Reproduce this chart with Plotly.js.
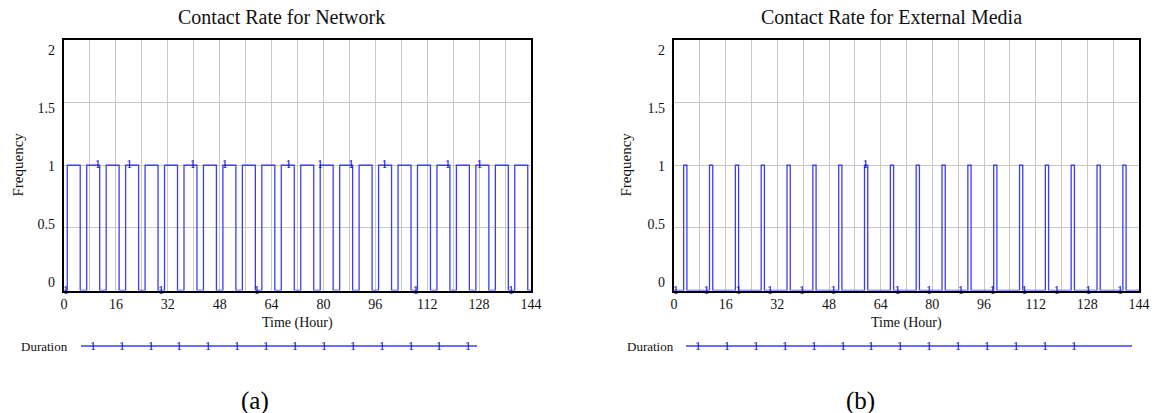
<!DOCTYPE html>
<html>
<head>
<meta charset="utf-8">
<script src="https://cdn.plot.ly/plotly-3.0.1.min.js"></script>
<style>
  html, body { margin: 0; padding: 0; background: #ffffff; }
  #chart { width: 1152px; height: 413px; }
</style>
</head>
<body>
<div id="chart"></div>
<script>
// ---------- DATA ----------
// (a) Contact Rate for Network : step changes (time in hours, value after the change)
const networkTime = [0, 1, 5, 7, 11, 13, 17, 19, 23, 25, 29, 31, 35, 37, 41, 43, 47, 49, 53, 55, 59,
                     61, 65, 67, 71, 73, 77, 79, 83, 85, 89, 91, 95, 97, 101, 103, 107, 109, 113,
                     115, 119, 121, 125, 127, 131, 133, 137, 139, 143, 144];
const networkRate = [0, 1, 0, 1, 0, 1, 0, 1, 0, 1, 0, 1, 0, 1, 0, 1, 0, 1, 0, 1, 0,
                     1, 0, 1, 0, 1, 0, 1, 0, 1, 0, 1, 0, 1, 0, 1, 0, 1, 0,
                     1, 0, 1, 0, 1, 0, 1, 0, 1, 0, 0];
// line-identifier "1" labels drawn on the (a) curve
const networkLabelTime = [0.5, 10.4, 20.1, 29.9, 39.7, 49.6, 59.4, 69.2, 78.9, 88.5, 98.8, 108.5, 118.3, 128.1, 137.8];
const networkLabelRate = [0, 1, 1, 0, 1, 1, 0, 1, 1, 1, 1, 0, 1, 1, 0];

// (b) Contact Rate for External Media
const mediaTime = [0, 3, 4, 11, 12, 19, 20, 27, 28, 35, 36, 43, 44, 51, 52, 59, 60, 67, 68, 75, 76,
                   83, 84, 91, 92, 99, 100, 107, 108, 115, 116, 123, 124, 131, 132, 139, 140, 144];
const mediaRate = [0, 1, 0, 1, 0, 1, 0, 1, 0, 1, 0, 1, 0, 1, 0, 1, 0, 1, 0, 1, 0,
                   1, 0, 1, 0, 1, 0, 1, 0, 1, 0, 1, 0, 1, 0, 1, 0, 0];
const mediaLabelTime = [0.5, 10.1, 20.0, 29.7, 39.6, 49.4, 59.3, 69.2, 79.0, 88.8, 98.6, 108.5, 118.5, 128.3, 138.1];
const mediaLabelRate = [0, 0, 0, 0, 0, 0, 1, 0, 0, 0, 0, 0, 0, 0, 0];

// axis ticks
const xGridVals = [0, 8, 16, 24, 32, 40, 48, 56, 64, 72, 80, 88, 96, 104, 112, 120, 128, 136, 144];
const xTickText = ['0', '', '16', '', '32', '', '48', '', '64', '', '80', '', '96', '', '112', '', '128', '', '144'];
const yTickVals = [0, 0.5, 1, 1.5, 2];
const yTickText = ['0', '0.5', '1', '1.5', '2'];

const titles = ['Contact Rate for Network', 'Contact Rate for External Media'];
const yTitle = 'Frequency';
const xTitle = 'Time (Hour)';
const legendName = 'Duration';
const panelTags = ['(a)', '(b)'];

// ---------- LAYOUT HELPERS ----------
const W = 1152, H = 413;
const px = x => x / W;
const py = y => 1 - y / H;
const SERIF = 'Liberation Serif, Times New Roman, serif';
const LINE_BLUE = '#3c3cff';
const MARK_BLUE = '#0000dd';
const GRID = '#c8c8c8';

const plotTop = 40, plotBottom = 290.5;
const panels = [
  {left: 64, right: 531, xa: 'x', ya: 'y', ylab: 'y3', titleX: 281, yTitleX: 17.5,
   legText: 70, legStart: 81, legEnd: 477, legFirst: 92.7, tagX: 255},
  {left: 674, right: 1139, xa: 'x2', ya: 'y2', ylab: 'y4', titleX: 891, yTitleX: 625.5,
   legText: 676, legStart: 686, legEnd: 1132, legFirst: 698, tagX: 860}
];
// label axis range reproduces the slightly compressed tick-label spacing of the original
const labelRange = [-0.0713, 2.0825];

const seriesT = [networkTime, mediaTime];
const seriesV = [networkRate, mediaRate];
const labT = [networkLabelTime, mediaLabelTime];
const labV = [networkLabelRate, mediaLabelRate];

const traces = [];
const layout = {
  width: W, height: H,
  margin: {l: 0, r: 0, t: 0, b: 0},
  paper_bgcolor: '#ffffff', plot_bgcolor: '#ffffff',
  showlegend: false,
  font: {family: SERIF, color: '#111111', size: 14},
  annotations: [], shapes: []
};

panels.forEach((p, i) => {
  const n = i === 0 ? '' : '2';
  const labN = i === 0 ? '3' : '4';
  traces.push({
    type: 'scatter', mode: 'lines', x: seriesT[i], y: seriesV[i],
    xaxis: p.xa, yaxis: p.ya, line: {shape: 'hv', color: LINE_BLUE, width: 1.3},
    hoverinfo: 'x+y', cliponaxis: false
  });
  traces.push({
    type: 'scatter', mode: 'text', x: labT[i], y: labV[i], text: labT[i].map(() => '1'),
    xaxis: p.xa, yaxis: p.ya, textposition: 'middle center',
    textfont: {family: SERIF, size: 12, color: MARK_BLUE}, hoverinfo: 'skip', cliponaxis: false
  });
  traces.push({type: 'scatter', x: [], y: [], xaxis: p.xa, yaxis: p.ylab, hoverinfo: 'skip'});

  layout['xaxis' + n] = {
    domain: [px(p.left), px(p.right)], range: [0, 144], anchor: p.ya,
    tickmode: 'array', tickvals: xGridVals, ticktext: xTickText,
    showgrid: true, gridcolor: GRID, gridwidth: 1,
    showline: true, mirror: true, linecolor: '#000000', linewidth: 2,
    zeroline: false, ticks: '', ticklabelstandoff: 0,
    tickfont: {family: SERIF, size: 14, color: '#111111'}, fixedrange: true
  };
  layout['yaxis' + n] = {
    domain: [py(plotBottom), py(plotTop)], range: [0, 2], anchor: p.xa,
    tickmode: 'array', tickvals: yTickVals, showticklabels: false,
    showgrid: true, gridcolor: GRID, gridwidth: 1,
    showline: true, mirror: true, linecolor: '#000000', linewidth: 2,
    zeroline: false, ticks: '', fixedrange: true
  };
  layout['yaxis' + labN] = {
    overlaying: p.ya, anchor: p.xa, side: 'left', range: labelRange,
    tickmode: 'array', tickvals: yTickVals, ticktext: yTickText,
    showgrid: false, showline: false, zeroline: false, ticks: '', ticklabelstandoff: 8,
    tickfont: {family: SERIF, size: 14, color: '#111111'}, fixedrange: true
  };

  const A = layout.annotations;
  A.push({text: titles[i], x: px(p.titleX), y: py(17), xref: 'paper', yref: 'paper',
          xanchor: 'center', yanchor: 'middle', showarrow: false,
          font: {family: SERIF, size: 20, color: '#111111'}});
  A.push({text: yTitle, x: px(p.yTitleX), y: py(165), xref: 'paper', yref: 'paper',
          xanchor: 'center', yanchor: 'middle', textangle: -90, showarrow: false,
          font: {family: SERIF, size: 15, color: '#111111'}});
  A.push({text: xTitle, x: px((p.left + p.right) / 2), y: py(323), xref: 'paper', yref: 'paper',
          xanchor: 'center', yanchor: 'middle', showarrow: false,
          font: {family: SERIF, size: 14, color: '#111111'}});
  A.push({text: legendName, x: px(p.legText), y: py(346), xref: 'paper', yref: 'paper',
          xanchor: 'right', yanchor: 'middle', showarrow: false,
          font: {family: SERIF, size: 13, color: '#111111'}});
  A.push({text: panelTags[i], x: px(p.tagX), y: py(401), xref: 'paper', yref: 'paper',
          xanchor: 'center', yanchor: 'middle', showarrow: false,
          font: {family: SERIF, size: 25, color: '#000000'}});
  layout.shapes.push({type: 'line', xref: 'paper', yref: 'paper',
          x0: px(p.legStart), x1: px(p.legEnd), y0: py(346), y1: py(346),
          line: {color: LINE_BLUE, width: 1.5}});
  for (let k = 0; k < 14; k++) {
    A.push({text: '1', x: px(p.legFirst + k * 28.9), y: py(346), xref: 'paper', yref: 'paper',
            xanchor: 'center', yanchor: 'middle', showarrow: false,
            font: {family: SERIF, size: 12, color: MARK_BLUE}});
  }
});

Plotly.newPlot('chart', traces, layout, {displayModeBar: false, staticPlot: true});
</script>
</body>
</html>
